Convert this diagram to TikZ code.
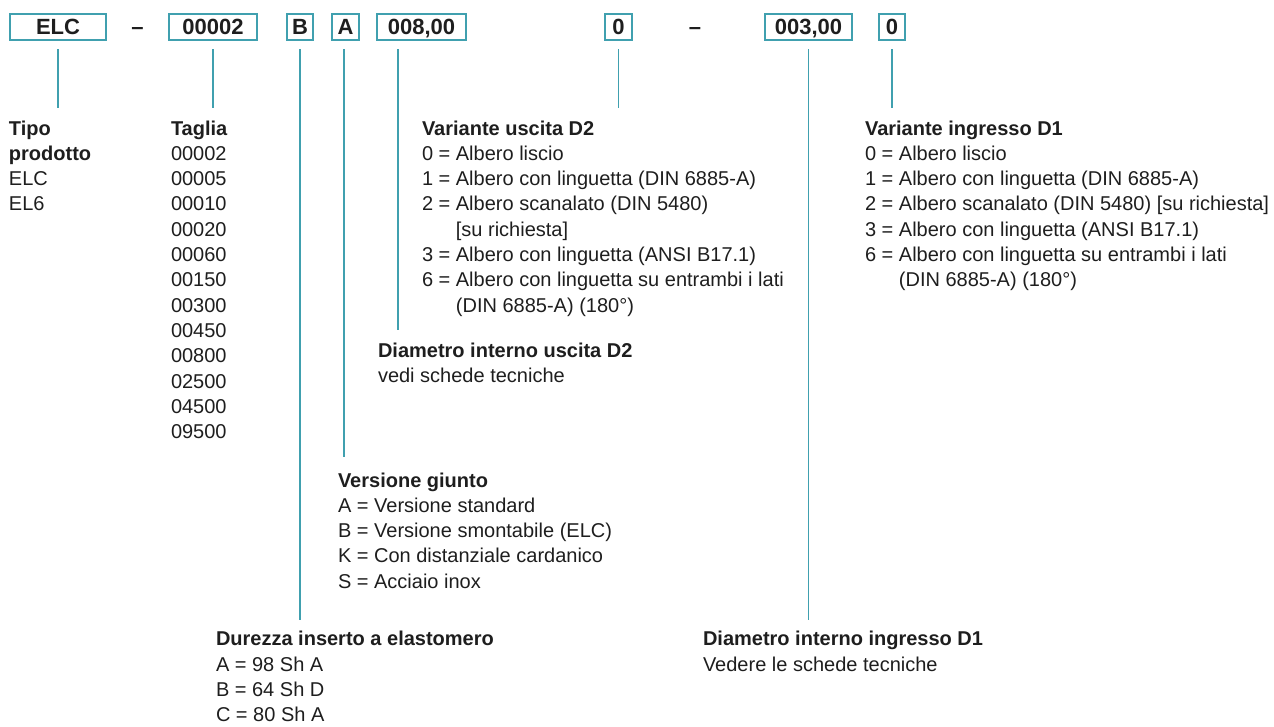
\documentclass[tikz,border=0pt]{standalone}
\usepackage{fontspec}
\setmainfont{Liberation Sans}
\usetikzlibrary{calc}
\definecolor{tealline}{RGB}{64,160,175}
\definecolor{txt}{RGB}{30,30,30}
\begin{document}
\begin{tikzpicture}[x=1pt,y=-1pt,
  codebox/.style={draw=tealline,line width=1.8pt,inner sep=0pt,outer sep=0pt,minimum height=26.5pt,text height=15.8pt,text depth=0pt,font=\fontsize{22}{26}\selectfont\bfseries,text=txt},
  conn/.style={draw=tealline,line width=1.8pt},
  info/.style={anchor=north west,inner sep=0pt,outer sep=0pt,align=left,font=\fontsize{20}{25.3}\selectfont,text=txt},
  dashlbl/.style={inner sep=0pt,text height=15.8pt,text depth=0pt,font=\fontsize{22}{26}\selectfont\bfseries,text=txt}]
\useasboundingbox (0,0) rectangle (1274,727);

% code boxes
\node[codebox,minimum width=96.5pt] (bELC) at (58,27) {ELC};
\node[dashlbl] (d1) at (137.5,27) {–};
\node[codebox,minimum width=88.5pt] (bSize) at (213,27) {00002};
\node[codebox,minimum width=26.5pt] (bB) at (300,27) {B};
\node[codebox,minimum width=27.5pt] (bA) at (345.5,27) {A};
\node[codebox,minimum width=89.5pt] (bD2) at (421.5,27) {008,00};
\node[codebox,minimum width=27.5pt] (bV2) at (618.5,27) {0};
\node[dashlbl] (d2) at (695,27) {–};
\node[codebox,minimum width=87.5pt] (bD1) at (808.5,27) {003,00};
\node[codebox,minimum width=26.5pt] (bV1) at (892,27) {0};

% text blocks
\node[info] (tTipo) at (9,117.3) {\strut\textbf{Tipo}\\\textbf{prodotto}\\ELC\\EL6};
\node[info] (tTaglia) at (171,117.3) {\strut\textbf{Taglia}\\00002\\00005\\00010\\00020\\00060\\00150\\00300\\00450\\00800\\02500\\04500\\09500};
\node[info] (tVarU) at (422,117.3) {\strut\textbf{Variante uscita D2}\\
0 = Albero liscio\\
1 = Albero con linguetta (DIN 6885-A)\\
2 = Albero scanalato (DIN 5480)\\
\phantom{6 = }[su richiesta]\\
3 = Albero con linguetta (ANSI B17.1)\\
6 = Albero con linguetta su entrambi i lati\\
\phantom{6 = }(DIN 6885-A) (180°)};
\node[info] (tDiamU) at (378,339.3) {\strut\textbf{Diametro interno uscita D2}\\vedi schede tecniche};
\node[info] (tVers) at (338,469.3) {\strut\textbf{Versione giunto}\\
A = Versione standard\\
B = Versione smontabile (ELC)\\
K = Con distanziale cardanico\\
S = Acciaio inox};
\node[info] (tDur) at (216,628) {\strut\textbf{Durezza inserto a elastomero}\\
A = 98 Sh A\\
B = 64 Sh D\\
C = 80 Sh A};
\node[info] (tVarI) at (865,117.3) {\strut\textbf{Variante ingresso D1}\\
0 = Albero liscio\\
1 = Albero con linguetta (DIN 6885-A)\\
2 = Albero scanalato (DIN 5480) [su richiesta]\\
3 = Albero con linguetta (ANSI B17.1)\\
6 = Albero con linguetta su entrambi i lati\\
\phantom{6 = }(DIN 6885-A) (180°)};
\node[info] (tDiamI) at (703,628) {\strut\textbf{Diametro interno ingresso D1}\\Vedere le schede tecniche};

% connectors
\draw[conn] ($(bELC.south)+(0pt,-9pt)$) -- ($(bELC.south |- tTipo.north)+(0pt,9pt)$);
\draw[conn] ($(bSize.south)+(0pt,-9pt)$) -- ($(bSize.south |- tTaglia.north)+(0pt,9pt)$);
\draw[conn] ($(bB.south)+(0pt,-9pt)$) -- ($(bB.south |- tDur.north)+(0pt,8.5pt)$);
\draw[conn] ($(bA.south)+(-1.5pt,-9pt)$) -- ($(bA.south |- tVers.north)+(-1.5pt,12pt)$);
\draw[conn] ($(bD2.south)+(-23.5pt,-9pt)$) -- ($(bD2.south |- tDiamU.north)+(-23.5pt,9pt)$);
\draw[conn] ($(bV2.south)+(0pt,-9pt)$) -- ($(bV2.south |- tVarU.north)+(0pt,9pt)$);
\draw[conn] ($(bD1.south)+(0pt,-9pt)$) -- ($(bD1.south |- tDiamI.north)+(0pt,8.5pt)$);
\draw[conn] ($(bV1.south)+(0pt,-9pt)$) -- ($(bV1.south |- tVarI.north)+(0pt,9pt)$);
\end{tikzpicture}
\end{document}
